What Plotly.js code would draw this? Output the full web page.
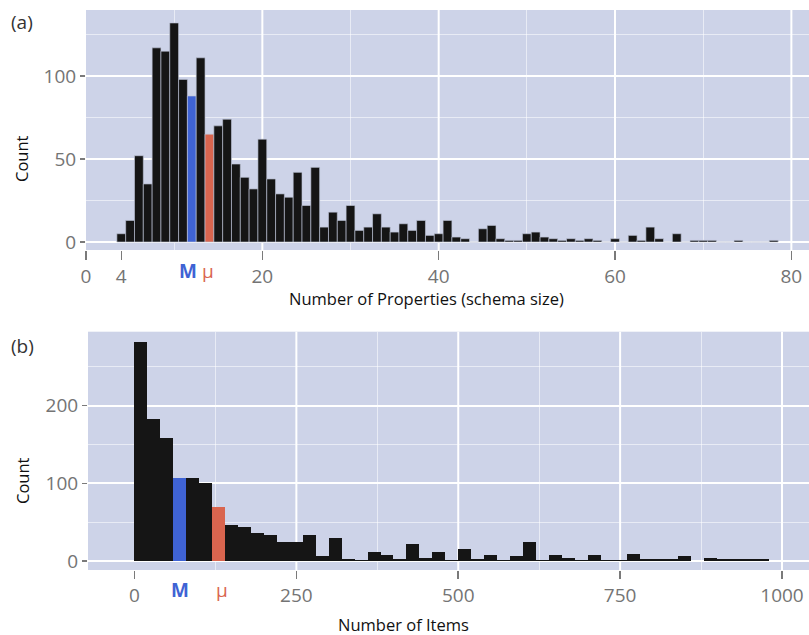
<!DOCTYPE html>
<html>
<head>
<meta charset="utf-8">
<script src="https://cdn.plot.ly/plotly-3.0.1.min.js"></script>
<style>html,body{margin:0;padding:0;background:#fff;}#chart{width:809px;height:635px;}</style>
</head>
<body>
<div id="chart"></div>
<script>
// ---- (a) Number of properties (schema size) ----
const propX = [4,5,6,7,8,9,10,11,12,13,14,15,16,17,18,19,20,21,22,23,24,25,26,27,28,29,30,31,32,33,34,35,36,37,38,39,40,41,42,43,44,45,46,47,48,49,50,51,52,53,54,55,56,57,58,59,60,61,62,63,64,65,66,67,68,69,70,71,72,73,74,75,76,77,78];
const propCount = [5,13,52,35,117,115,132,98,88,111,65,70,74,47,39,32,62,38,29,27,42,22,45,9,18,13,22,7,9,17,9,6,11,7,13,4,5,13,3,2,0,8,10,2,1,1,5,6,3,2,1,2,1,2,1,0,2,0,4,1,9,2,0,5,0,1,1,1,0,0,1,0,0,0,1];
const propMedian = 11.6;
const propMean = 13.8;
const propTickVals = [0,4,20,40,60,80];
const propTickText = ['0','4','20','40','60','80'];
const propYTicks = [0,50,100];

// ---- (b) Number of items ----
const itemBinStart = [0,20,40,60,80,100,120,140,160,180,200,220,240,260,280,300,320,340,360,380,400,420,440,460,480,500,520,540,560,580,600,620,640,660,680,700,720,740,760,780,800,820,840,860,880,900,920,940,960,980];
const itemCount = [282,183,158,107,107,100,70,46,44,36,34,24,24,33,7,30,3,1,11,8,3,22,4,12,1,15,2,8,1,7,24,1,8,4,1,8,1,1,9,2,3,2,6,0,4,2,3,2,3,0];
const itemBinWidth = 20;
const itemMedian = 70;
const itemMean = 135;
const itemTickVals = [0,250,500,750,1000];
const itemTickText = ['0','250','500','750','1000'];
const itemYTicks = [0,100,200];

const BLACK = '#151515', BLUE = '#3f63d4', RED = '#d9654f';
const BG = '#cdd3e8';
const GRIDMAJ = '#ffffff', GRIDMIN = 'rgba(255,255,255,0.55)';
const FONT = 'Open Sans, sans-serif';
const TICKFONT = {family: FONT, size: 19, color: '#747474'};
const TITLEFONT = {family: FONT, size: 16.5, color: '#111'};

const propColors = propX.map(x => (propMedian >= x - 0.5 && propMedian < x + 0.5) ? BLUE :
                                  (propMean >= x - 0.5 && propMean < x + 0.5) ? RED : BLACK);
const itemColors = itemBinStart.map(s => (itemMedian >= s && itemMedian < s + itemBinWidth) ? BLUE :
                                         (itemMean >= s && itemMean < s + itemBinWidth) ? RED : BLACK);

const traces = [
  {type: 'bar', x: propX, y: propCount, width: 1, xaxis: 'x', yaxis: 'y',
   marker: {color: propColors, line: {color: 'rgba(190,196,215,0.8)', width: 0.8}},
   hoverinfo: 'x+y', showlegend: false},
  {type: 'bar', x: itemBinStart, y: itemCount, width: itemBinWidth, offset: 0, xaxis: 'x2', yaxis: 'y2',
   marker: {color: itemColors, line: {width: 0}},
   hoverinfo: 'x+y', showlegend: false}
];

const W = 809, H = 635;
const px = v => v / W, py = v => 1 - v / H;

const shapes = [];
[20,40,60,80].forEach(v => shapes.push({type:'line', xref:'x', yref:'y domain', x0:v, x1:v, y0:0, y1:1, layer:'below', line:{color:GRIDMAJ, width:2}}));
[250,500,750,1000].forEach(v => shapes.push({type:'line', xref:'x2', yref:'y2 domain', x0:v, x1:v, y0:0, y1:1, layer:'below', line:{color:GRIDMAJ, width:2}}));

const axCommon = {showline: false, zeroline: false, ticks: 'outside', tickcolor: '#7a7a7a', tickwidth: 1.5, tickfont: TICKFONT, fixedrange: true};

function ann(text, xref, x, y, font, extra) {
  return Object.assign({text: text, xref: xref, yref: 'paper', x: x, y: y, xanchor: 'center', yanchor: 'middle', showarrow: false, font: font}, extra || {});
}

const layout = {
  width: W, height: H,
  margin: {l: 0, r: 0, t: 0, b: 0},
  paper_bgcolor: '#ffffff',
  plot_bgcolor: BG,
  bargap: 0,
  showlegend: false,
  xaxis: Object.assign({}, axCommon, {
    domain: [px(86), 1], anchor: 'y', range: [0, 82],
    tickmode: 'array', tickvals: propTickVals, ticktext: propTickText, ticklen: 9,
    showgrid: false,
    minor: {tickmode: 'array', tickvals: [10,30,50,70], showgrid: true, gridcolor: GRIDMIN, gridwidth: 1, ticks: ''}
  }),
  yaxis: Object.assign({}, axCommon, {
    domain: [py(250), py(10)], anchor: 'x', range: [-4.8, 139.8],
    tickmode: 'array', tickvals: propYTicks, ticklen: 5,
    showgrid: true, gridcolor: GRIDMAJ, gridwidth: 2,
    minor: {tickmode: 'array', tickvals: [25,75,125], showgrid: true, gridcolor: GRIDMIN, gridwidth: 1, ticks: ''}
  }),
  xaxis2: Object.assign({}, axCommon, {
    domain: [px(88), 1], anchor: 'y2', range: [-71.8, 1041.7],
    tickmode: 'array', tickvals: itemTickVals, ticktext: itemTickText, ticklen: 8,
    showgrid: false,
    minor: {tickmode: 'array', tickvals: [125,375,625,875], showgrid: true, gridcolor: GRIDMIN, gridwidth: 1, ticks: ''}
  }),
  yaxis2: Object.assign({}, axCommon, {
    domain: [py(570), py(331.7)], anchor: 'x2', range: [-11.6, 295.1],
    tickmode: 'array', tickvals: itemYTicks, ticklen: 5,
    showgrid: true, gridcolor: GRIDMAJ, gridwidth: 2,
    minor: {tickmode: 'array', tickvals: [50,150,250], showgrid: true, gridcolor: GRIDMIN, gridwidth: 1, ticks: ''}
  }),
  shapes: shapes,
  annotations: [
    ann('(a)', 'paper', px(22), py(22), {family: FONT, size: 19, color: '#333'}),
    ann('(b)', 'paper', px(22), py(346), {family: FONT, size: 19, color: '#333'}),
    ann('Count', 'paper', px(22), py(159), TITLEFONT, {textangle: -90}),
    ann('Count', 'paper', px(22), py(481), TITLEFONT, {textangle: -90}),
    ann('Number of Properties (schema size)', 'paper', px(426), py(298), TITLEFONT),
    ann('Number of Items', 'paper', px(403), py(624), TITLEFONT),
    ann('<b>M</b>', 'x', propMedian, py(271), {family: FONT, size: 19, color: BLUE}),
    ann('μ', 'x', propMean, py(271), {family: FONT, size: 19, color: RED}),
    ann('<b>M</b>', 'x2', itemMedian, py(590), {family: FONT, size: 19, color: BLUE}),
    ann('μ', 'x2', itemMean, py(590), {family: FONT, size: 19, color: RED})
  ]
};

Plotly.newPlot('chart', traces, layout, {displayModeBar: false, staticPlot: true});
</script>
</body>
</html>
